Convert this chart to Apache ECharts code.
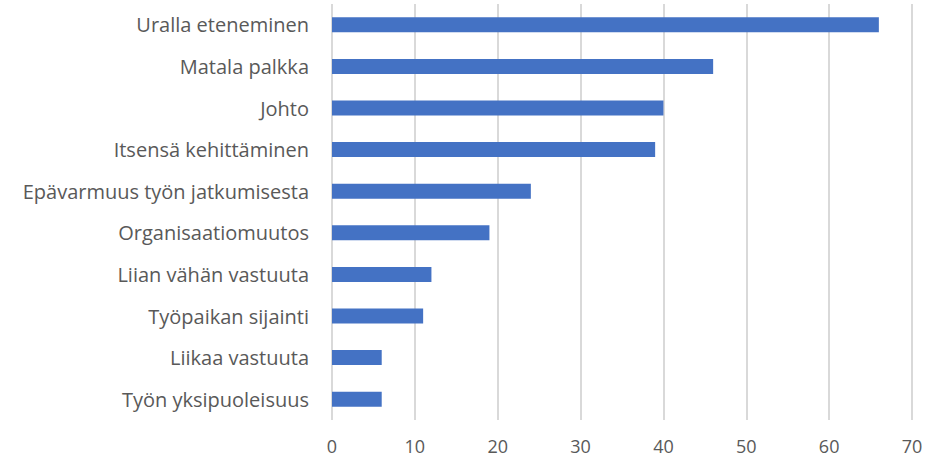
<!DOCTYPE html>
<html>
<head>
<meta charset="utf-8">
<script src="https://cdn.jsdelivr.net/npm/echarts@6/dist/echarts.min.js"></script>
<style>
  html, body { margin: 0; padding: 0; background: #fff; }
  #chart { width: 928px; height: 459px; }
</style>
</head>
<body>
<div id="chart"></div>
<script>
// categories listed bottom to top (category axis starts at the bottom)
const categories = [
  'Työn yksipuoleisuus',
  'Liikaa vastuuta',
  'Työpaikan sijainti',
  'Liian vähän vastuuta',
  'Organisaatiomuutos',
  'Epävarmuus työn jatkumisesta',
  'Itsensä kehittäminen',
  'Johto',
  'Matala palkka',
  'Uralla eteneminen'
];
const values = [6, 6, 11, 12, 19, 24, 39, 40, 46, 66];
const xTicks = [0, 10, 20, 30, 40, 50, 60, 70];

let chartDom = document.getElementById('chart');
let chart = echarts.init(chartDom, null, {renderer: 'svg'});
let option;

option = {
  animation: false,
  grid: {
    left: 332,
    right: 16,
    top: 4,
    bottom: 39,
    containLabel: false
  },
  xAxis: {
    type: 'value',
    min: xTicks[0],
    max: xTicks[xTicks.length - 1],
    interval: 10,
    axisLine: { show: false },
    axisTick: { show: false },
    axisLabel: {
      color: '#595959',
      fontFamily: 'Open Sans',
      fontSize: 18,
      margin: 17
    },
    splitLine: {
      show: true,
      lineStyle: { color: '#d9d9d9', width: 2 }
    }
  },
  yAxis: {
    type: 'category',
    data: categories,
    axisLine: { show: false },
    axisTick: { show: false },
    axisLabel: {
      color: '#595959',
      fontFamily: 'Open Sans',
      fontSize: 20,
      margin: 23
    }
  },
  series: [
    {
      type: 'bar',
      data: values,
      barWidth: '36%',
      itemStyle: { color: '#4472c4' }
    }
  ]
};

chart.setOption(option);
window.addEventListener('resize', function () {
  chart.resize();
});
</script>
</body>
</html>
